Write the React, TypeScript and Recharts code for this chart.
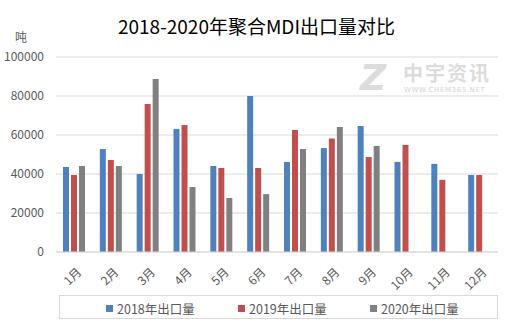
import { BarChart, Bar, XAxis, YAxis, CartesianGrid, Legend } from 'recharts';

const months = ['1月', '2月', '3月', '4月', '5月', '6月', '7月', '8月', '9月', '10月', '11月', '12月'];
const export2018 = [43600, 52800, 40000, 63100, 44100, 80000, 46200, 53300, 64600, 46200, 45200, 39500];
const export2019 = [39500, 47200, 75900, 65100, 43100, 43100, 62600, 58200, 48700, 54900, 37000, 39500];
const export2020 = [44100, 44100, 88700, 33300, 27700, 29700, 52800, 64100, 54400, null, null, null];
const yTicks = [0, 20000, 40000, 60000, 80000, 100000];

const FONT = '"Noto Sans CJK SC", "Noto Sans", sans-serif';

const seriesList = [
  { key: 'y2018', name: '2018年出口量', color: '#4F81BD' },
  { key: 'y2019', name: '2019年出口量', color: '#C0504D' },
  { key: 'y2020', name: '2020年出口量', color: '#808080' },
];

const chartData = months.map((m, i) => ({
  month: m,
  y2018: export2018[i],
  y2019: export2019[i],
  y2020: export2020[i],
}));

const MonthTick = ({ x, y, payload }: any) => (
  <text
    x={x + 4}
    y={y + 9}
    transform={`rotate(-45, ${x + 4}, ${y + 9})`}
    textAnchor="end"
    dominantBaseline="central"
    fontSize={12}
    fill="#595959"
    fontFamily={FONT}
  >
    {payload.value}
  </text>
);

const LegendBox = () => (
  <div
    style={{
      width: 437,
      height: 22,
      border: '1px solid #d9d9d9',
      fontFamily: FONT,
      fontSize: 12.5,
      color: '#595959',
      position: 'relative',
    }}
  >
    {seriesList.map((s, i) => (
      <div
        key={s.key}
        style={{ position: 'absolute', left: 46 + i * 132, top: 3, display: 'flex', alignItems: 'center' }}
      >
        <span style={{ width: 7, height: 7, background: s.color, display: 'inline-block', marginRight: 4 }} />
        <span>{s.name}</span>
      </div>
    ))}
  </div>
);

export default function App() {
  return (
    <div style={{ position: 'absolute', left: 0, top: 0, width: 513, height: 329, background: '#fff' }}>
      <div
        style={{
          position: 'absolute',
          top: 12,
          left: 0,
          width: 513,
          textAlign: 'center',
          fontFamily: FONT,
          fontSize: 19,
          color: '#000',
        }}
      >
        2018-2020年聚合MDI出口量对比
      </div>
      <div style={{ position: 'absolute', top: 30, left: 15, fontFamily: FONT, fontSize: 12, lineHeight: '14px', color: '#595959' }}>
        吨
      </div>
      {/* watermark */}
      <div
        style={{
          position: 'absolute', top: 60, left: 360, fontFamily: 'DejaVu Sans', fontSize: 36, lineHeight: '36px',
          fontWeight: 700, fontStyle: 'italic', color: '#dcdcdc',
        }}
      >
        Z
      </div>
      <div
        style={{
          position: 'absolute', top: 62, left: 403, fontFamily: FONT, fontSize: 20, lineHeight: '22px',
          fontWeight: 700, letterSpacing: 2, color: '#dcdcdc', whiteSpace: 'nowrap',
        }}
      >
        中宇资讯
      </div>
      <div
        style={{
          position: 'absolute', top: 86, left: 404, fontFamily: 'DejaVu Sans', fontSize: 7, lineHeight: '8px',
          letterSpacing: 0.6, color: '#d4d4d4', whiteSpace: 'nowrap',
        }}
      >
        WWW.CHEM365.NET
      </div>
      <BarChart
        width={513}
        height={329}
        data={chartData}
        margin={{ top: 57, right: 15, left: 0, bottom: 37 }}
        barSize={6}
        barGap={2}
        style={{ position: 'absolute', left: 0, top: 0 }}
      >
        <CartesianGrid vertical={false} stroke="#d9d9d9" />
        <XAxis
          dataKey="month"
          height={40}
          interval={0}
          tick={<MonthTick />}
          tickLine={false}
          axisLine={{ stroke: '#d9d9d9' }}
        />
        <YAxis
          width={56}
          domain={[0, 100000]}
          ticks={yTicks}
          tickLine={false}
          axisLine={false}
          tickMargin={6}
          tick={{ fontSize: 12, fill: '#595959', fontFamily: FONT }}
        />
        {seriesList.map((s) => (
          <Bar key={s.key} dataKey={s.key} name={s.name} fill={s.color} isAnimationActive={false} />
        ))}
        <Legend
          layout="horizontal"
          verticalAlign="middle"
          align="center"
          wrapperStyle={{ top: 295, left: 59, width: 439 }}
          content={<LegendBox />}
        />
      </BarChart>
    </div>
  );
}
